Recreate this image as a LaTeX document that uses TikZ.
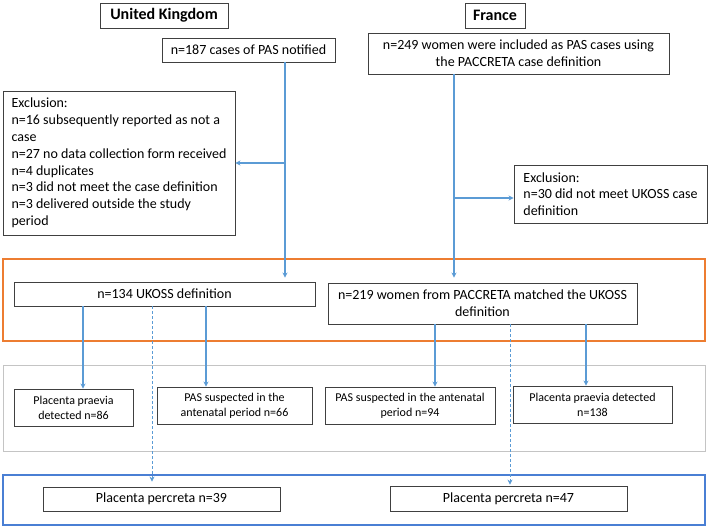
\documentclass[tikz,border=0pt]{standalone}
\usepackage{fontspec}
\setmainfont{Carlito}
\usetikzlibrary{arrows.meta}
\definecolor{linkblue}{HTML}{5B9BD5}
\definecolor{frameorange}{HTML}{ED7D31}
\definecolor{framegray}{HTML}{C4C4C4}
\definecolor{frameblue}{HTML}{4A7FD4}
\definecolor{boxline}{HTML}{404040}
\tikzset{box/.style={draw=boxline, line width=0.9pt, inner sep=0pt, align=center,
		font=\fontsize{14}{16.8}\selectfont},
	smallbox/.style={box, font=\fontsize{12}{15}\selectfont},
	exclbox/.style={box, align=left},
	title/.style={box, font=\fontsize{16}{19}\selectfont\bfseries},
	link/.style={draw=linkblue, line width=1.1pt, -{Stealth[length=5pt,width=5pt]}},
	dashlink/.style={link, line width=0.7pt, densely dashed},
	frame/.style={line width=1pt}}

\begin{document}
\begin{tikzpicture}[x=1pt,y=-1pt]
		\useasboundingbox (0,0) rectangle (709,528);
		% frames
		\draw[frame, draw=frameorange, line width=2pt] (3,259) rectangle (705,341);
		\draw[frame, draw=framegray] (3,365) rectangle (705,451);
		\draw[frame, draw=frameblue, line width=1.4pt] (3,475) rectangle (705,525);
		% countries
		\node[title, minimum width=128, minimum height=25] (uk) at (164,15.5){United Kingdom};
		\node[title, minimum width=60, minimum height=25] (fr) at (495,15.5){France};
		% UK side
		\node[box, minimum width=173, minimum height=24] (ukn) at (248.5,50){n=187 cases of PAS notified};
		\node[exclbox, minimum width=232, minimum height=144] (ukex) at (119,163){Exclusion:\\
			n=16 subsequently reported as not a\\ case\\ n=27 no data collection form received\\
			n=4 duplicates\\ n=3 did not meet the case definition\\ n=3 delivered outside the study\\ period};
		\node[box, minimum width=301, minimum height=24] (uk134) at (164.5,294){n=134 UKOSS definition};
		\node[smallbox, minimum width=119, minimum height=37] (ukpp) at (73.5,407.5){Placenta praevia\\ detected n=86};
		\node[smallbox, minimum width=155, minimum height=37] (ukps) at (234.5,405.5){PAS suspected in the\\ antenatal period n=66};
		\node[box, minimum width=237, minimum height=24] (ukpc) at (161.5,499){Placenta percreta n=39};
		% France side
		\node[box, minimum width=301, minimum height=41] (frn) at (518.5,53.5){n=249 women were included as PAS cases using\\ the PACCRETA case definition};
		\node[exclbox, minimum width=193, minimum height=58] (frex) at (610.5,194){Exclusion:\\
			n=30 did not meet UKOSS case\\ definition};
		\node[box, minimum width=309, minimum height=41] (fr219) at (482.5,303.5){n=219 women from PACCRETA matched the UKOSS\\ definition};
		\node[smallbox, minimum width=170, minimum height=37] (frps) at (410,405.5){PAS suspected in the antenatal\\ period n=94};
		\node[smallbox, minimum width=159, minimum height=37] (frpp) at (592.5,404.5){Placenta praevia detected\\ n=138};
		\node[box, minimum width=237, minimum height=25] (frpc) at (508.5,498.5){Placenta percreta n=47};
		% line positions
		\coordinate (ukx) at (285,0);
		\coordinate (frx) at (454,0);
		\coordinate (ukl) at (83,0);
		\coordinate (ukr) at (206,0);
		\coordinate (ukd) at (152,0);
		\coordinate (frl) at (435,0);
		\coordinate (frr) at (586,0);
		\coordinate (frd) at (510,0);
		\coordinate (frb) at (0,198);
		% connectors
		\draw[link, shorten >=4pt] (ukx |- ukn.south) to (ukx |- uk134.north);
		\draw[link] (ukx |- ukex.east) to (ukex.east);
		\draw[link, shorten >=5pt] (frx |- frn.south) to (frx |- fr219.north);
		\draw[link] (frx |- frb) to (frex.west |- frb);
		\draw[link] (ukl |- uk134.south) to (ukl |- ukpp.north);
		\draw[link] (ukr |- uk134.south) to (ukr |- ukps.north);
		\draw[link] (frl |- fr219.south) to (frl |- frps.north);
		\draw[link] (frr |- fr219.south) to (frr |- frpp.north);
		\draw[dashlink, shorten >=5pt] (ukd |- uk134.south) to (ukd |- ukpc.north);
		\draw[dashlink, shorten >=1pt] (frd |- fr219.south) to (frd |- frpc.north);
\end{tikzpicture}
\end{document}
